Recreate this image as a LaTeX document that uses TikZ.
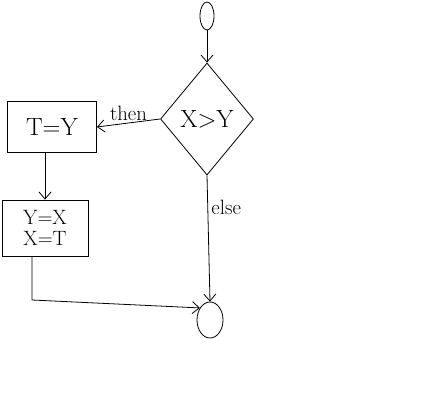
\documentclass[tikz,border=0pt]{standalone}
\usepackage{tikz}
\usetikzlibrary{arrows.meta,positioning,shapes.geometric}

\begin{document}
\begin{tikzpicture}[x=1pt, y=-1pt, line width=0.8pt,
                    term/.style={ellipse, draw, inner sep=0pt},
                    stepbox/.style={rectangle, draw, align=center, font=\huge},
                    test/.style={diamond, draw, minimum width=93pt, minimum height=112pt, inner sep=0pt, font=\Huge},
                    flow/.style={-{Straight Barb[length=7pt,width=12pt]}}]
    \useasboundingbox (0,0) rectangle (439,406);
    \node[term, minimum width=14pt, minimum height=28pt] (start) at (207,16) {};
    \node[test] (cmp) at (207,119) {X>Y};
    \node[stepbox, minimum width=89pt, minimum height=51pt, font=\Huge] (tmp) at (52,127) {T=Y};
    \node[stepbox, minimum width=86pt, minimum height=56pt, inner sep=1pt] (swap) at (45,228) {Y=X\\[-4pt]X=T};
    \node[term, minimum width=26pt, minimum height=36pt] (stop) at (210,320) {};
    \coordinate (bend) at (32,300);
    \draw[flow] (start) -- (cmp);
    \draw[flow] (cmp.west) -- node[above, font=\huge, inner sep=2pt] {then} (tmp.east);
    \draw[flow] (tmp.south -| swap.north) -- (swap.north);
    \draw[flow] (cmp.south) -- node[pos=0.25, right, font=\huge] {else} (stop.north);
    \draw[flow] (swap.south -| bend) -- (bend) -- (stop.130);
  \end{tikzpicture}
\end{document}
